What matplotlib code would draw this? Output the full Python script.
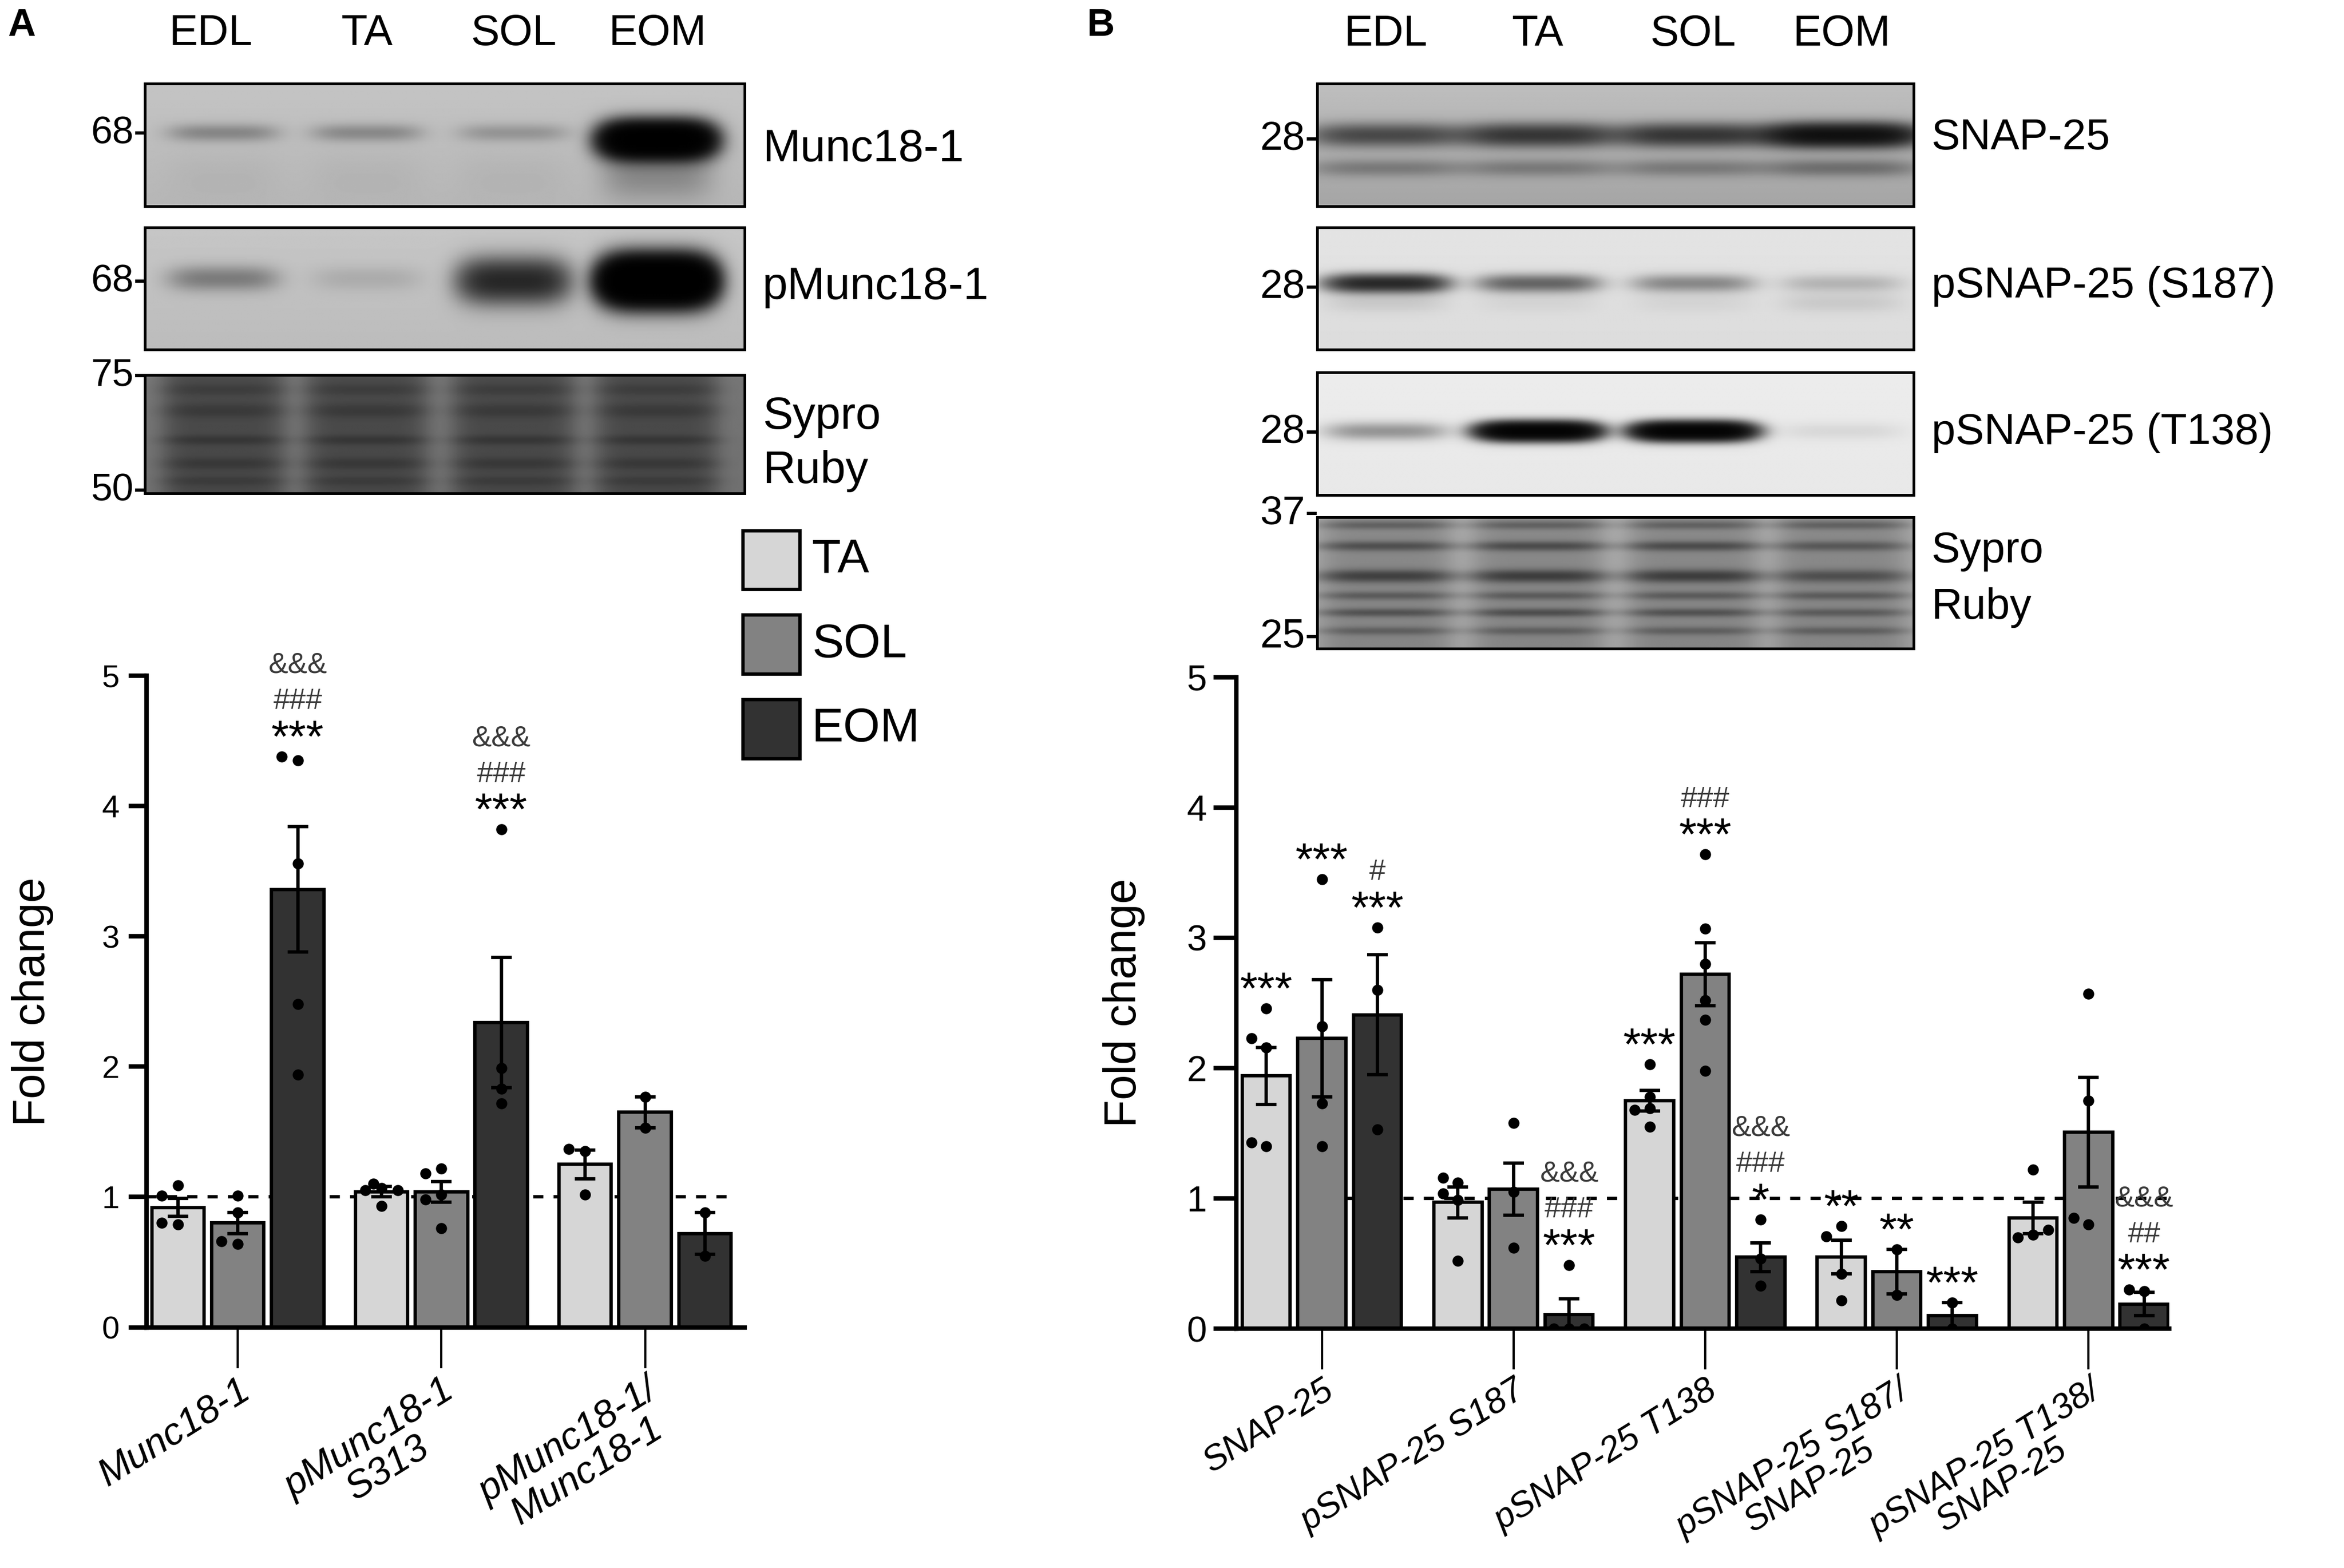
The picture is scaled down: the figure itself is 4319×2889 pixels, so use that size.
import numpy as np
import matplotlib.pyplot as plt
from matplotlib.patches import Rectangle

plt.rcParams['font.family'] = ['Liberation Sans', 'DejaVu Sans']
NARROW = ['Liberation Sans Narrow', 'Liberation Sans', 'DejaVu Sans']

# ---------------- data ----------------
tissues = ['TA', 'SOL', 'EOM']
bar_colors = ['#d6d6d6', '#828282', '#323232']
lanes = ['EDL', 'TA', 'SOL', 'EOM']

# panel A quantification
a_categories = ['Munc18-1', 'pMunc18-1\nS313', 'pMunc18-1/\nMunc18-1']
a_means = [[0.92, 0.80, 3.36], [1.04, 1.04, 2.34], [1.25, 1.65, 0.72]]
a_sems = [[0.07, 0.08, 0.48], [0.04, 0.08, 0.50], [0.11, 0.12, 0.16]]
a_points = [
    [[1.09, 1.01, 0.79, 0.80], [1.01, 0.88, 0.64, 0.66], [3.56, 2.48, 1.94, 4.35, 4.38]],
    [[1.07, 1.05, 1.05, 0.93, 1.10], [1.22, 1.18, 1.02, 0.98, 0.76], [3.82, 1.99, 1.83, 1.72]],
    [[1.35, 1.37, 1.02], [1.77, 1.53], [0.88, 0.55]],
]
a_signif = [(0, 2, ['***', '###', '&&&']), (1, 2, ['***', '###', '&&&'])]

# panel B quantification
b_categories = ['SNAP-25', 'pSNAP-25 S187', 'pSNAP-25 T138',
                'pSNAP-25 S187/\nSNAP-25', 'pSNAP-25 T138/\nSNAP-25']
b_means = [[1.94, 2.23, 2.41], [0.97, 1.07, 0.11], [1.75, 2.72, 0.55],
           [0.55, 0.44, 0.10], [0.85, 1.51, 0.19]]
b_sems = [[0.22, 0.45, 0.46], [0.12, 0.20, 0.12], [0.08, 0.24, 0.11],
          [0.13, 0.17, 0.10], [0.12, 0.42, 0.09]]
b_points = [
    [[2.46, 2.16, 2.23, 1.40, 1.43], [3.45, 2.32, 1.73, 1.40], [3.08, 2.60, 1.53]],
    [[1.12, 1.04, 1.16, 0.52, 0.99], [1.58, 1.05, 0.62], [0.49, 0.0, 0.0, 0.0]],
    [[2.03, 1.78, 1.69, 1.68, 1.55], [3.64, 3.07, 2.80, 2.52, 2.37, 1.98], [0.84, 0.54, 0.33]],
    [[0.79, 0.71, 0.42, 0.22], [0.61, 0.26], [0.20, 0.0]],
    [[1.22, 0.72, 0.70, 0.76], [2.57, 1.75, 0.80, 0.85], [0.29, 0.30, 0.0]],
]
b_signif = [(0, 0, ['***']), (0, 1, ['***']), (0, 2, ['***', '#']),
            (1, 2, ['***', '###', '&&&']), (2, 0, ['***']), (2, 1, ['***', '###']),
            (2, 2, ['*', '###', '&&&']), (3, 0, ['**']), (3, 1, ['**']),
            (3, 2, ['***']), (4, 2, ['***', '##', '&&&'])]

# blot band strengths per lane (EDL, TA, SOL, EOM)
munc_band = [0.35, 0.33, 0.25, 0.0]
munc_big = [0.0, 0.0, 0.0, 6.0]
pmunc_band = [0.45, 0.12, 0.0, 0.0]
pmunc_big = [0.0, 0.0, 1.6, 8.0]
snap_band = [0.9, 1.2, 1.2, 2.4]
snap_low_band = [0.35, 0.35, 0.35, 0.45]
ps187_band = [1.7, 0.8, 0.5, 0.22]
pt138_band = [0.45, 4.0, 4.0, 0.08]


# ---------------- helpers ----------------
W_D, H_D = 1568.0, 1049.0


def rect(x0, y0, x1, y1):
    return [x0 / W_D, 1 - y1 / H_D, (x1 - x0) / W_D, (y1 - y0) / H_D]


def blot_image(bg_top, bg_bot, lane_x, bands, lane_hw, lane_dark=0.0, h=90, w=400):
    yy, xx = np.mgrid[0:1:h * 1j, 0:1:w * 1j]
    img = bg_top + (bg_bot - bg_top) * yy
    dark = np.zeros_like(img)
    for xc in lane_x:
        dark += lane_dark * np.exp(-np.abs((xx - xc) / lane_hw) ** 6)
    for yc, sy, strengths in bands:
        for xc, s in zip(lane_x, strengths):
            dark += s * np.exp(-np.abs((xx - xc) / lane_hw) ** 4) * np.exp(-((yy - yc) / sy) ** 2)
    return img * np.exp(-dark)


def draw_blot(fig, box, img):
    ax = fig.add_axes(rect(*box))
    ax.imshow(img, cmap='gray', vmin=0, vmax=255, aspect='auto', interpolation='bilinear')
    ax.set_xticks([])
    ax.set_yticks([])
    for s in ax.spines.values():
        s.set_linewidth(1.2)
    return ax


def spread(vals, tol):
    offs = []
    placed = []
    for v in vals:
        for o in [0.0, -0.27, 0.27, -0.14, 0.14]:
            if all(abs(v - pv) > tol or o != po for pv, po in placed):
                break
        placed.append((v, o))
        offs.append(o)
    return offs


def bar_panel(ax, categories, means, sems, points, signif, gap, width, xlim, dash_from,
              label_size):
    centers = np.arange(len(categories)) * gap
    for g, c in enumerate(centers):
        for t in range(3):
            x = c + (t - 1)
            ax.bar(x, means[g][t], width, color=bar_colors[t], edgecolor='black',
                   linewidth=1.5, zorder=2)
            ax.errorbar(x, means[g][t], yerr=sems[g][t], fmt='none', ecolor='black',
                        elinewidth=1.5, capsize=4.5, capthick=1.5, zorder=3)
            pts = points[g][t]
            offs = spread(pts, 0.09)
            ax.scatter(x + np.array(offs), pts, s=24, color='black', zorder=4, linewidths=0)
    for g, t, lines in signif:
        x = centers[g] + (t - 1)
        top = max(max(points[g][t]), means[g][t] + sems[g][t])
        offsets = [0, 21, 37]
        for k, txt in enumerate(lines):
            star = txt.startswith('*')
            ax.annotate(txt, xy=(x, top), xytext=(0, offsets[k] + (2 if star else 0)),
                        textcoords='offset points', ha='center', va='baseline',
                        fontsize=20 if star else 13,
                        color='black' if star else '#3a3a3a', zorder=5)
    last = centers[-1] + 1 + width / 2
    ax.plot([dash_from, last], [1, 1], color='black', lw=1.5, ls=(0, (3, 3)), zorder=1)
    ax.set_xlim(*xlim)
    ax.set_ylim(0, 5)
    ax.set_yticks(range(6))
    ax.set_xticks(centers)
    ax.set_xticklabels(categories, rotation=32, ha='right', va='top',
                       rotation_mode='anchor', fontstyle='italic', fontsize=label_size,
                       linespacing=1.0)
    for lab in ax.get_xticklabels():
        lab.set_multialignment('center')
    ax.tick_params(axis='x', length=18, width=1.0, pad=2)
    for side in ['top', 'right']:
        ax.spines[side].set_visible(False)
    for side in ['left', 'bottom']:
        ax.spines[side].set_linewidth(2.0)
    ax.set_ylabel('Fold change', fontsize=20)
    ax.patch.set_alpha(0)


# ---------------- figure ----------------
fig = plt.figure(figsize=(4319 / 300, 2889 / 300), dpi=300)

# panel A blots
a_lane_x = [0.13, 0.37, 0.615, 0.855]
draw_blot(fig, (97, 56, 498, 138),
          blot_image(196, 182, a_lane_x, [(0.40, 0.07, munc_band),
                                          (0.46, 0.13, munc_big),
                                          (0.75, 0.2, [0.03, 0.03, 0.03, 0.3])], 0.09))
draw_blot(fig, (97, 152, 498, 234),
          blot_image(198, 188, a_lane_x, [(0.42, 0.10, pmunc_band),
                                          (0.44, 0.17, pmunc_big)], 0.09))
draw_blot(fig, (97, 251, 498, 330),
          blot_image(118, 112, a_lane_x,
                     [(0.12, 0.05, [0.2] * 4), (0.30, 0.06, [0.25] * 4),
                      (0.55, 0.04, [0.3] * 4), (0.75, 0.05, [0.25] * 4),
                      (0.9, 0.04, [0.2] * 4)], 0.1, lane_dark=0.45))

# panel B blots
b_lane_x = [0.115, 0.37, 0.63, 0.88]
draw_blot(fig, (881, 56, 1280, 138),
          blot_image(190, 165, b_lane_x, [(0.42, 0.09, snap_band),
                                          (0.69, 0.07, snap_low_band)], 0.125))
draw_blot(fig, (881, 152, 1280, 234),
          blot_image(228, 220, b_lane_x, [(0.46, 0.07, ps187_band),
                                          (0.62, 0.08, [0.1, 0.05, 0.05, 0.1])], 0.1))
draw_blot(fig, (881, 249, 1280, 331),
          blot_image(236, 232, b_lane_x, [(0.48, 0.07, pt138_band)], 0.1))
draw_blot(fig, (881, 346, 1280, 434),
          blot_image(172, 165, b_lane_x,
                     [(0.06, 0.03, [0.35] * 4), (0.22, 0.035, [0.55, 0.6, 0.6, 0.45]),
                      (0.45, 0.045, [0.75, 0.8, 0.8, 0.55]), (0.60, 0.03, [0.4] * 4),
                      (0.73, 0.03, [0.5, 0.55, 0.5, 0.4]), (0.87, 0.03, [0.35] * 4)],
                     0.11, lane_dark=0.22))

# bar charts
ax_a = fig.add_axes(rect(98, 452, 498, 888))
bar_panel(ax_a, a_categories, a_means, a_sems, a_points, a_signif,
          gap=3.4, width=0.875, xlim=(-1.525, 8.46), dash_from=-1.525, label_size=17)
ax_a.tick_params(axis='y', length=8, width=2.0, pad=4, labelsize=14)
ax_a.yaxis.set_label_coords(-0.155, 0.5)

ax_b = fig.add_axes(rect(827, 453, 1451, 889))
bar_panel(ax_b, b_categories, b_means, b_sems, b_points, b_signif,
          gap=3.45, width=0.865, xlim=(-1.54, 15.25), dash_from=0.0, label_size=15.5)
ax_b.tick_params(axis='y', length=10, width=2.0, pad=3, labelsize=16)
for lab in ax_b.get_yticklabels():
    lab.set_family(NARROW)
ax_b.yaxis.set_label_coords(-0.098, 0.5)

# overlay for labels (figure drawn in display units of the reference)
ov = fig.add_axes([0, 0, 1, 1])
ov.set_xlim(0, W_D)
ov.set_ylim(H_D, 0)
ov.axis('off')
ov.patch.set_alpha(0)

ov.text(5, 24, 'A', fontsize=17, fontweight='bold', va='baseline', ha='left')
ov.text(727, 24, 'B', fontsize=17, fontweight='bold', va='baseline', ha='left')

for i, name in enumerate(lanes):
    ov.text(97 + 401 * a_lane_x[i] - (8 if i == 0 else 0), 30, name, ha='center',
            va='baseline', fontsize=19, family=NARROW)
    ov.text(881 + 399 * b_lane_x[i], 30.5, name, ha='center', va='baseline',
            fontsize=19, family=NARROW)

for txt, y in [('68-', 96), ('68-', 195), ('75-', 258), ('50-', 335)]:
    ov.text(98, y, txt, ha='right', va='baseline', fontsize=17, family=NARROW)
for txt, y in [('28-', 100), ('28-', 199), ('28-', 296), ('37-', 351), ('25-', 433)]:
    ov.text(882, y, txt, ha='right', va='baseline', fontsize=18, family=NARROW)

for txt, y in [('Munc18-1', 108), ('pMunc18-1', 200), ('Sypro', 287), ('Ruby', 323)]:
    ov.text(510, y, txt, ha='left', va='baseline', fontsize=20, family=NARROW)
for txt, y in [('SNAP-25', 100), ('pSNAP-25 (S187)', 199), ('pSNAP-25 (T138)', 297),
               ('Sypro', 376), ('Ruby', 414)]:
    ov.text(1292, y, txt, ha='left', va='baseline', fontsize=19, family=NARROW)

# legend
for i, (name, col) in enumerate(zip(tissues, bar_colors)):
    y0 = 355 + i * 56.5
    ov.add_patch(Rectangle((497, y0), 38, 39.5, facecolor=col, edgecolor='black', lw=1.5))
    ov.text(543, y0 + 20, name, ha='left', va='center', fontsize=21)

fig.savefig('out.png', dpi=300)
